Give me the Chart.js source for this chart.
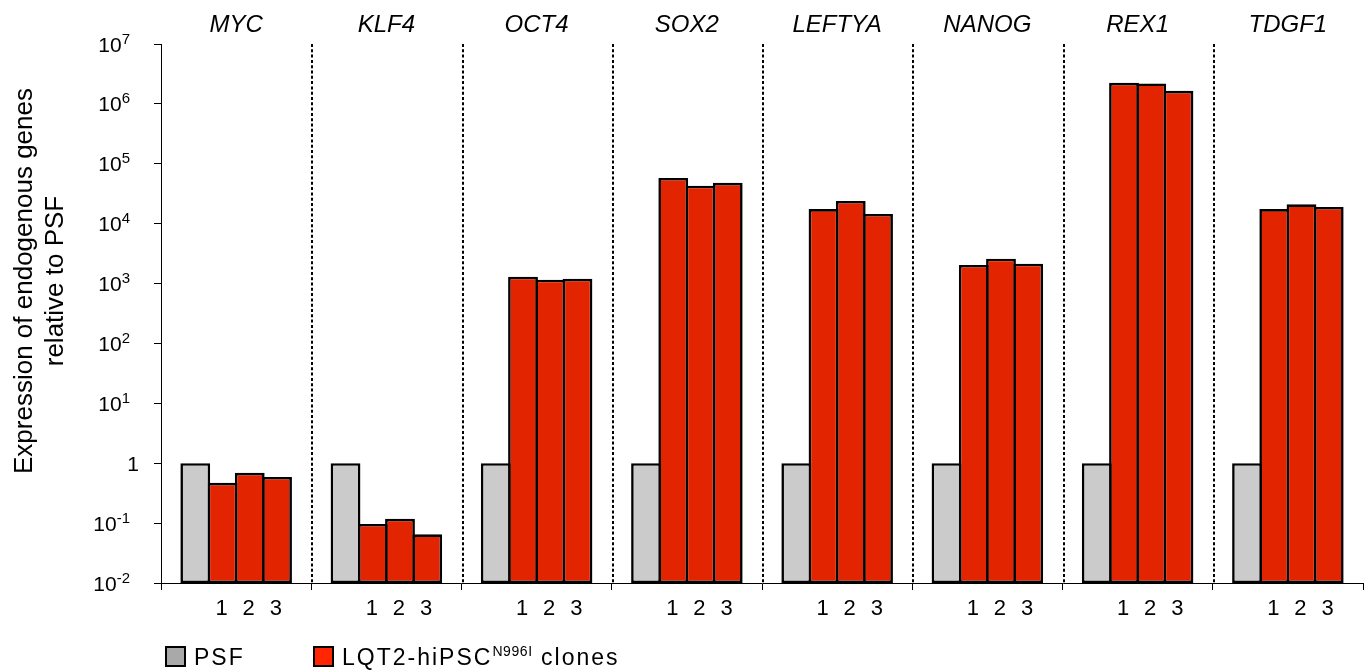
<!DOCTYPE html>
<html>
<head>
<meta charset="utf-8">
<script src="https://cdn.jsdelivr.net/npm/chart.js@4.4.1/dist/chart.umd.min.js"></script>
<style>
  html, body { margin: 0; padding: 0; background: #fff; }
  #wrap { position: relative; width: 1369px; height: 670px; overflow: hidden; }
  #c { position: absolute; left: 0; top: 0; }
  .leg { position: absolute; top: 643px; font-family: "Liberation Sans", Arial, sans-serif; font-size: 23px; letter-spacing: 2px; color: #000; white-space: nowrap; line-height: 28px; }
  .sw { display: inline-block; width: 17px; height: 17px; border: 2px solid #000; vertical-align: -2px; margin-right: 8px; }
  .leg sup { font-size: 14px; letter-spacing: 0.6px; vertical-align: 9px; line-height: 0; }
</style>
</head>
<body>
<div id="wrap">
  <canvas id="c" width="1369" height="670"></canvas>
  <div class="leg" style="left:165px;"><span class="sw" style="background:#a9a9a9"></span>PSF</div>
  <div class="leg" style="left:313px;"><span class="sw" style="background:#ff2600"></span>LQT2-hiPSC<sup>N996I</sup> clones</div>
</div>
<script>
const genes = ['MYC', 'KLF4', 'OCT4', 'SOX2', 'LEFTYA', 'NANOG', 'REX1', 'TDGF1'];
const psf    = [1, 1, 1, 1, 1, 1, 1, 1];
const clone1 = [0.47, 0.097, 1300, 58000, 17500, 2050, 2250000, 17500];
const clone2 = [0.69, 0.118, 1160, 43000, 24000, 2600, 2200000, 21000];
const clone3 = [0.59, 0.065, 1200, 48000, 14500, 2150, 1650000, 19000];
const cloneLabels = ['1', '2', '3'];
const yTickValues = [1e-2, 1e-1, 1, 1e1, 1e2, 1e3, 1e4, 1e5, 1e6, 1e7];
const yTickBase = ['10', '10', '1', '10', '10', '10', '10', '10', '10', '10'];
const yTickExp  = ['-2', '-1', '', '1', '2', '3', '4', '5', '6', '7'];
const yTitle = ['Expression of endogenous genes', 'relative to PSF'];

const FONT = '"Liberation Sans", Arial, sans-serif';
const GRAY = '#cbcbcb';
const RED = '#e32400';

const overlay = {
  id: 'overlay',
  afterDraw(chart) {
    const ctx = chart.ctx;
    const x = chart.scales.x, y = chart.scales.y;
    const area = chart.chartArea;
    ctx.save();
    // dotted separators between groups
    ctx.strokeStyle = '#000';
    ctx.lineWidth = 2;
    ctx.setLineDash([3, 2.3]);
    for (let i = 1; i < genes.length; i++) {
      const px = Math.round((x.getPixelForValue(i - 1) + x.getPixelForValue(i)) / 2) + 1;
      ctx.beginPath();
      ctx.moveTo(px, area.top);
      ctx.lineTo(px, area.bottom);
      ctx.stroke();
    }
    ctx.setLineDash([]);
    // gene names
    ctx.fillStyle = '#000';
    ctx.font = 'italic 24px ' + FONT;
    ctx.textAlign = 'center';
    ctx.textBaseline = 'alphabetic';
    genes.forEach((g, i) => ctx.fillText(g, x.getPixelForValue(i), 32));
    // clone labels under bars
    ctx.font = '22px ' + FONT;
    for (let d = 1; d <= 3; d++) {
      const meta = chart.getDatasetMeta(d);
      meta.data.forEach(bar => ctx.fillText(cloneLabels[d - 1], bar.x - 1, 615));
    }
    // y tick labels
    yTickValues.forEach((v, i) => {
      const py = y.getPixelForValue(v);
      if (!yTickExp[i]) {
        ctx.font = '21px ' + FONT;
        ctx.textAlign = 'right';
        ctx.fillText(yTickBase[i], 139, py + 7.5);
        return;
      }
      ctx.font = '15px ' + FONT;
      const ew = ctx.measureText(yTickExp[i]).width;
      ctx.textAlign = 'left';
      ctx.fillText(yTickExp[i], 130 - ew, py - 0.5);
      ctx.font = '21px ' + FONT;
      ctx.textAlign = 'right';
      ctx.fillText(yTickBase[i], 130 - ew, py + 7.5);
    });
    // y title
    ctx.font = '26px ' + FONT;
    ctx.textAlign = 'center';
    ctx.translate(0, 281);
    ctx.rotate(-Math.PI / 2);
    ctx.fillText(yTitle[0], 0, 32);
    ctx.fillText(yTitle[1], 0, 63);
    ctx.restore();
  }
};

const mk = (label, data, color) => ({
  label, data, backgroundColor: color, borderColor: '#000', borderWidth: 2.6,
  borderSkipped: false, categoryPercentage: 0.725, barPercentage: 1.095
});

new Chart(document.getElementById('c'), {
  type: 'bar',
  data: {
    labels: genes,
    datasets: [
      mk('PSF', psf, GRAY),
      mk('Clone 1', clone1, RED),
      mk('Clone 2', clone2, RED),
      mk('Clone 3', clone3, RED)
    ]
  },
  options: {
    responsive: false,
    animation: false,
    devicePixelRatio: 1,
    layout: { padding: { left: 0, right: 6, top: 44, bottom: 0 } },
    plugins: { legend: { display: false }, tooltip: { enabled: false } },
    scales: {
      x: {
        type: 'category',
        offset: true,
        grid: {
          offset: true, drawOnChartArea: false, drawTicks: true, tickLength: 7,
          lineWidth: 1,
          color: (c) => (c.index === genes.length ? 'rgba(0,0,0,0)' : '#000')
        },
        border: { display: true, color: '#000', width: 1 },
        ticks: { display: false },
        afterFit: (s) => { s.height = 87; }
      },
      y: {
        type: 'logarithmic',
        min: 1e-2,
        max: 1e7,
        grid: { drawOnChartArea: false, drawTicks: true, tickLength: 7, color: '#000', lineWidth: 1 },
        border: { display: true, color: '#000', width: 1 },
        ticks: { display: false },
        afterBuildTicks: (s) => { s.ticks = yTickValues.map(v => ({ value: v })); },
        afterFit: (s) => { s.width = 161; }
      }
    }
  },
  plugins: [overlay]
});
</script>
</body>
</html>
